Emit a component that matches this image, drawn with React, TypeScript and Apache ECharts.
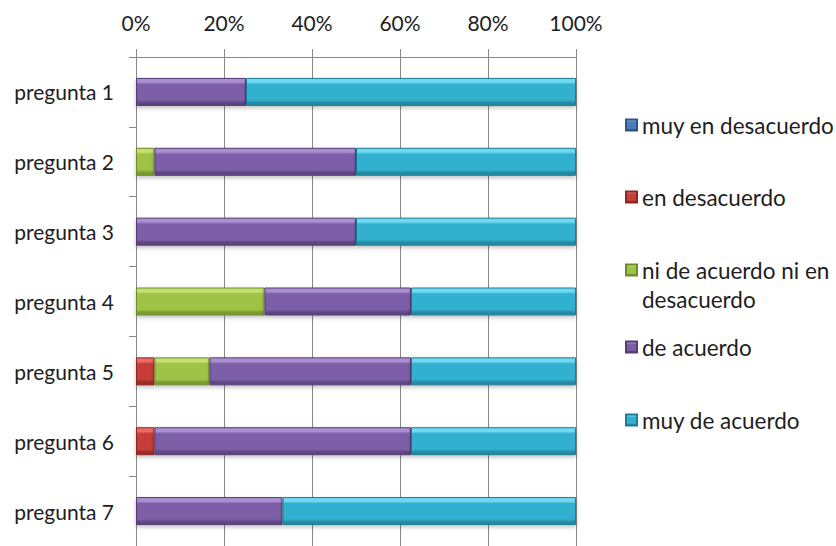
import React, { useEffect, useRef } from "react";
import * as echarts from "echarts";

const categories = ["pregunta 1", "pregunta 2", "pregunta 3", "pregunta 4", "pregunta 5", "pregunta 6", "pregunta 7"];
const seriesNames = ["muy en desacuerdo", "en desacuerdo", "ni de acuerdo ni en desacuerdo", "de acuerdo", "muy de acuerdo"];
const muyEnDesacuerdo = [0, 0, 0, 0, 0, 0, 0];
const enDesacuerdo = [0, 0, 0, 0, 4.2, 4.2, 0];
const niNi = [0, 4.2, 0, 29.2, 12.5, 0, 0];
const deAcuerdo = [25, 45.8, 50, 33.3, 45.8, 58.3, 33.3];
const muyDeAcuerdo = [75, 50, 50, 37.5, 37.5, 37.5, 66.7];
const xTicks = [0, 20, 40, 60, 80, 100];

const FONT = "Lato";
const TEXT = "#1e1e1e";
const AXIS = "#888888";

const palette = [
  { top: "#7ba4dc", base: "#4a7cbf", bottom: "#35608f", border: "#2f5586" },
  { top: "#ec6b66", base: "#c73d39", bottom: "#9a2a27", border: "#8e2624" },
  { top: "#c4e070", base: "#9fc346", bottom: "#7b9a30", border: "#6f8c2a" },
  { top: "#ab8fd0", base: "#7d5ea7", bottom: "#5f4582", border: "#543c74" },
  { top: "#6fd9f2", base: "#33b0cf", bottom: "#238aa4", border: "#1f7c94" },
];

function grad(p: { top: string; base: string; bottom: string }) {
  return new echarts.graphic.LinearGradient(0, 0, 0, 1, [
    { offset: 0, color: p.top },
    { offset: 0.14, color: p.top },
    { offset: 0.22, color: p.base },
    { offset: 0.8, color: p.base },
    { offset: 0.9, color: p.bottom },
    { offset: 1, color: p.bottom },
  ]);
}

export default function App() {
  const ref = useRef<HTMLDivElement>(null);
  useEffect(() => {
    if (!ref.current) return;
    const chart = echarts.init(ref.current, undefined, { renderer: "svg" });
    const values = [muyEnDesacuerdo, enDesacuerdo, niNi, deAcuerdo, muyDeAcuerdo];
    const legendCenters = [125, 197, 270, 347, 420];
    const LH = 29;
    const legends = seriesNames.map((name, i) => {
      const two = i === 2;
      return {
        data: [name],
        orient: "vertical",
        left: 625,
        top: two ? legendCenters[i] - LH * 1.5 : legendCenters[i] - LH / 2,
        padding: 0,
        icon: "rect",
        itemWidth: 11,
        itemHeight: 11,
        selectedMode: false,
        formatter: two ? () => "\nni de acuerdo ni en\ndesacuerdo" : undefined,
        textStyle: {
          fontFamily: FONT,
          fontSize: 22.5,
          color: TEXT,
          lineHeight: LH,
        },
      };
    });
    chart.setOption({
      animation: false,
      backgroundColor: "#ffffff",
      grid: { left: 136, top: 57, width: 440, height: 496, containLabel: false },
      legend: legends,
      xAxis: {
        type: "value",
        position: "top",
        min: xTicks[0],
        max: xTicks[xTicks.length - 1],
        interval: 20,
        axisLine: { show: true, lineStyle: { color: AXIS, width: 1 } },
        axisTick: { show: true, length: 8, lineStyle: { color: AXIS } },
        splitLine: { show: true, lineStyle: { color: AXIS, width: 1 } },
        axisLabel: {
          formatter: "{value}%",
          fontFamily: FONT,
          fontSize: 21,
          color: TEXT,
          margin: 24,
        },
      },
      yAxis: {
        type: "category",
        inverse: true,
        data: categories,
        axisLine: { show: true, lineStyle: { color: AXIS, width: 1 } },
        axisTick: { show: true, length: 7, lineStyle: { color: AXIS } },
        axisLabel: { fontFamily: FONT, fontSize: 21, color: TEXT, margin: 22 },
      },
      series: seriesNames.map((name, i) => ({
        name,
        type: "bar",
        stack: "total",
        barWidth: 28,
        data: values[i],
        itemStyle: {
          color: grad(palette[i]),
          borderColor: palette[i].border,
          borderWidth: 1,
          shadowColor: "rgba(0,0,0,0.25)",
          shadowBlur: 4,
          shadowOffsetY: 2,
        },
      })),
    });
    return () => chart.dispose();
  }, []);
  return (
    <div
      ref={ref}
      style={{ position: "fixed", left: 0, top: 0, width: 836, height: 546, background: "#fff" }}
    />
  );
}
